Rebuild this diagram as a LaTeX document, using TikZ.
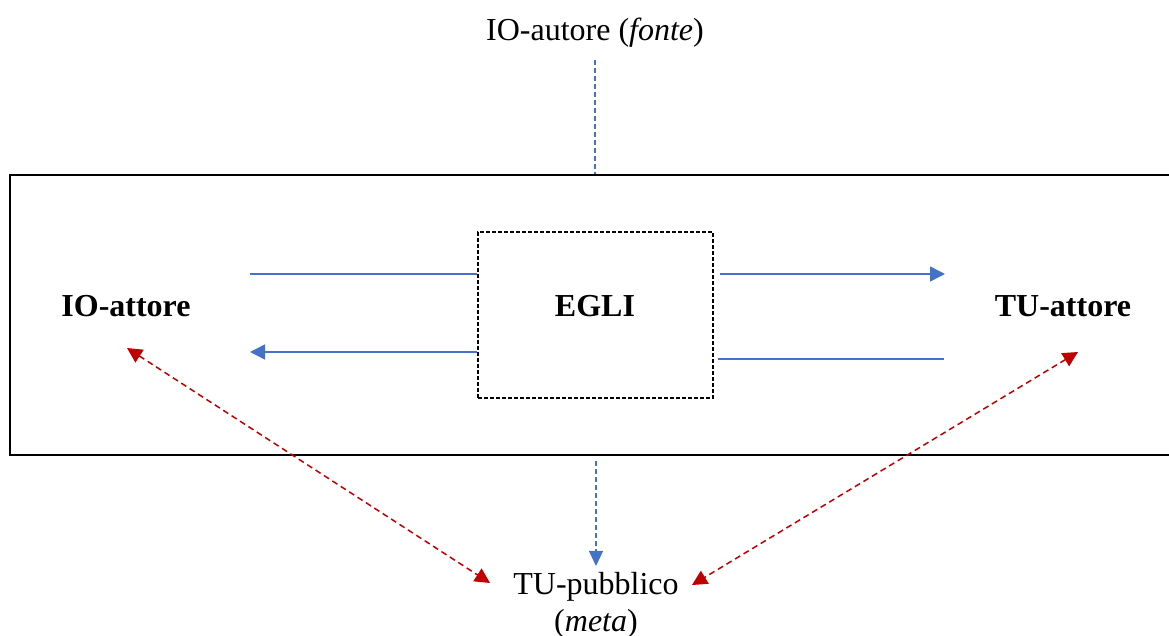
\documentclass[tikz,border=0pt]{standalone}
\usepackage{fontspec}
\setmainfont{Liberation Serif}
\usepackage{xcolor}
\usepackage{tikz}
\usetikzlibrary{positioning,%
  arrows.meta,%
  calc
}

\definecolor{blu}{HTML}{4472C4}
\definecolor{rosso}{HTML}{C00000}

\begin{document}
\begin{tikzpicture}
                    [
                        x=0.5pt, y=-0.5pt,
                        every node/.style={inner sep=0pt, font=\fontsize{16pt}{18.5pt}\selectfont},
                        attore/.style={font=\fontsize{16pt}{18.5pt}\selectfont\bfseries},
                        freccia/.style={draw=blu, line width=0.75pt, -{Triangle[length=7.5pt,width=7.5pt]}},
                        linea/.style={draw=blu, line width=0.75pt},
                        verticale/.style={draw=blu, line width=0.6pt, dash pattern=on 2.5pt off 1.5pt},
                        rossa/.style={draw=rosso, line width=0.75pt, dash pattern=on 3pt off 2pt,
                                      {Triangle[length=7.5pt,width=7.5pt]}-{Triangle[length=7.5pt,width=7.5pt]}}
                    ]
                    
                    \useasboundingbox (0,0) rectangle (1169,636);
                    
                    % Rahmen und Kasten
                    \node[draw, line width=1pt, minimum width=585pt, minimum height=140pt] (cornice) at (595,315) {};
                    \node[draw, line width=1pt, dash pattern=on 2pt off 1pt, minimum width=117.5pt, minimum height=83pt] (egli) at (595.5,315) {};
                    
                    \node[attore, anchor=base] (egli-testo) at (595,317) {EGLI};
                    \node[attore, anchor=base] (io) at (126,317) {IO-attore};
                    \node[attore, anchor=base] (tu) at (1063,317) {TU-attore};
                    \node[anchor=base] (autore) at (595,41) {IO-autore (\textit{fonte})};
                    \node[align=center, anchor=base] (pubblico) at (596,632) {TU-pubblico\\(\textit{meta})};
                    
                    \coordinate (sx-alto) at (250,274);
                    \coordinate (sx-basso) at (250,352);
                    \coordinate (dx-alto) at (945,274);
                    \coordinate (dx-basso) at (944,359);
                    
                    % Pfeile
                    \draw[linea] (egli.west |- sx-alto) -- (sx-alto);
                    \draw[freccia] (egli.west |- sx-basso) -- (sx-basso);
                    \draw[freccia] ([xshift=3pt]egli.east |- dx-alto) -- (dx-alto);
                    \draw[linea] ([xshift=2pt]egli.east |- dx-basso) -- (dx-basso);
                    
                    \draw[verticale] ($(autore.base)+(0,19)$) -- (cornice.north);
                    \draw[verticale, -{Triangle[length=7.5pt,width=7pt]}] ($(cornice.south)+(1,5)$) -- ($(pubblico.base)+(0,-66)$);
                    
                    \draw[rossa] ([shift={(1,31)}]io.base) -- ([shift={(-106,-49)}]pubblico.base);
                    \draw[rossa] ([shift={(15,35)}]tu.base) -- ([shift={(96,-47)}]pubblico.base);
                \end{tikzpicture}
\end{document}
